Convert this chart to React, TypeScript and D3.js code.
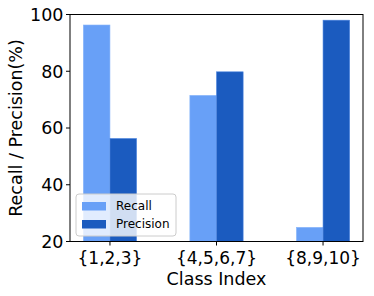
import React from 'react';
import * as d3 from 'd3';

const categories = ['{1,2,3}', '{4,5,6,7}', '{8,9,10}'];
const recall = [96.3, 71.5, 25];
const precision = [56.3, 79.8, 98];
const yTicks = [20, 40, 60, 80, 100];
const seriesNames = ['Recall', 'Precision'];

const colors = ['#68a0f7', '#1b5bbf'];
const font = 'DejaVu Sans, sans-serif';

const width = 374;
const height = 296;
const left = 70;
const right = 363;
const top = 14.5;
const bottom = 241.5;

export default function App() {
  // matplotlib-like: group positions 0..2, bar width 0.25, margin 0.05
  const x = d3.scaleLinear().domain([-0.375, 2.375]).range([left, right]);
  const y = d3.scaleLinear().domain([20, 100]).range([bottom, top]);
  const bw = 0.25;
  const series = [recall, precision];

  return (
    <svg width={width} height={height}
      style={{ position: 'absolute', left: 0, top: 0, background: '#fff' }}
      fontFamily={font}>
      {series.map((vals, s) => (
        <g key={s}>
          {vals.map((v, i) => {
            const x0 = x(i + (s === 0 ? -bw : 0));
            const x1 = x(i + (s === 0 ? 0 : bw));
            return (
              <rect key={i} x={x0} y={y(v)} width={x1 - x0} height={y(20) - y(v)}
                fill={colors[s]} stroke={s === 1 ? '#4f86e0' : '#8ab6fa'} strokeWidth={0.6} />
            );
          })}
        </g>
      ))}

      {/* frame */}
      <rect x={left} y={top} width={right - left} height={bottom - top}
        fill="none" stroke="#000" strokeWidth={1} />

      {/* y axis */}
      {yTicks.map(t => (
        <g key={t}>
          <line x1={left - 4} x2={left} y1={y(t)} y2={y(t)} stroke="#000" strokeWidth={1} />
          <text x={left - 6.5} y={y(t)} dy="0.36em" textAnchor="end" fontSize={17.5}>{t}</text>
        </g>
      ))}
      <text transform={`translate(22,${(top + bottom) / 2}) rotate(-90)`} textAnchor="middle"
        fontSize={17.5}>Recall / Precision(%)</text>

      {/* x axis */}
      {categories.map((c, i) => (
        <g key={c}>
          <line x1={x(i)} x2={x(i)} y1={bottom} y2={bottom + 4} stroke="#000" strokeWidth={1} />
          <text x={x(i)} y={bottom + 22} textAnchor="middle" fontSize={17}>{c}</text>
        </g>
      ))}
      <text x={(left + right) / 2} y={285} textAnchor="middle" fontSize={17.5}>Class Index</text>

      {/* legend */}
      <g transform="translate(76,194)">
        <rect x={0} y={0} width={100} height={42} rx={3} fill="#fff" fillOpacity={0.8}
          stroke="#cccccc" strokeWidth={1} />
        {seriesNames.map((n, i) => (
          <g key={n} transform={`translate(0,${12 + i * 18})`}>
            <rect x={6} y={-4} width={24} height={8.5} fill={colors[i]} />
            <text x={40} y={0} dy="0.36em" fontSize={12}>{n}</text>
          </g>
        ))}
      </g>
    </svg>
  );
}
